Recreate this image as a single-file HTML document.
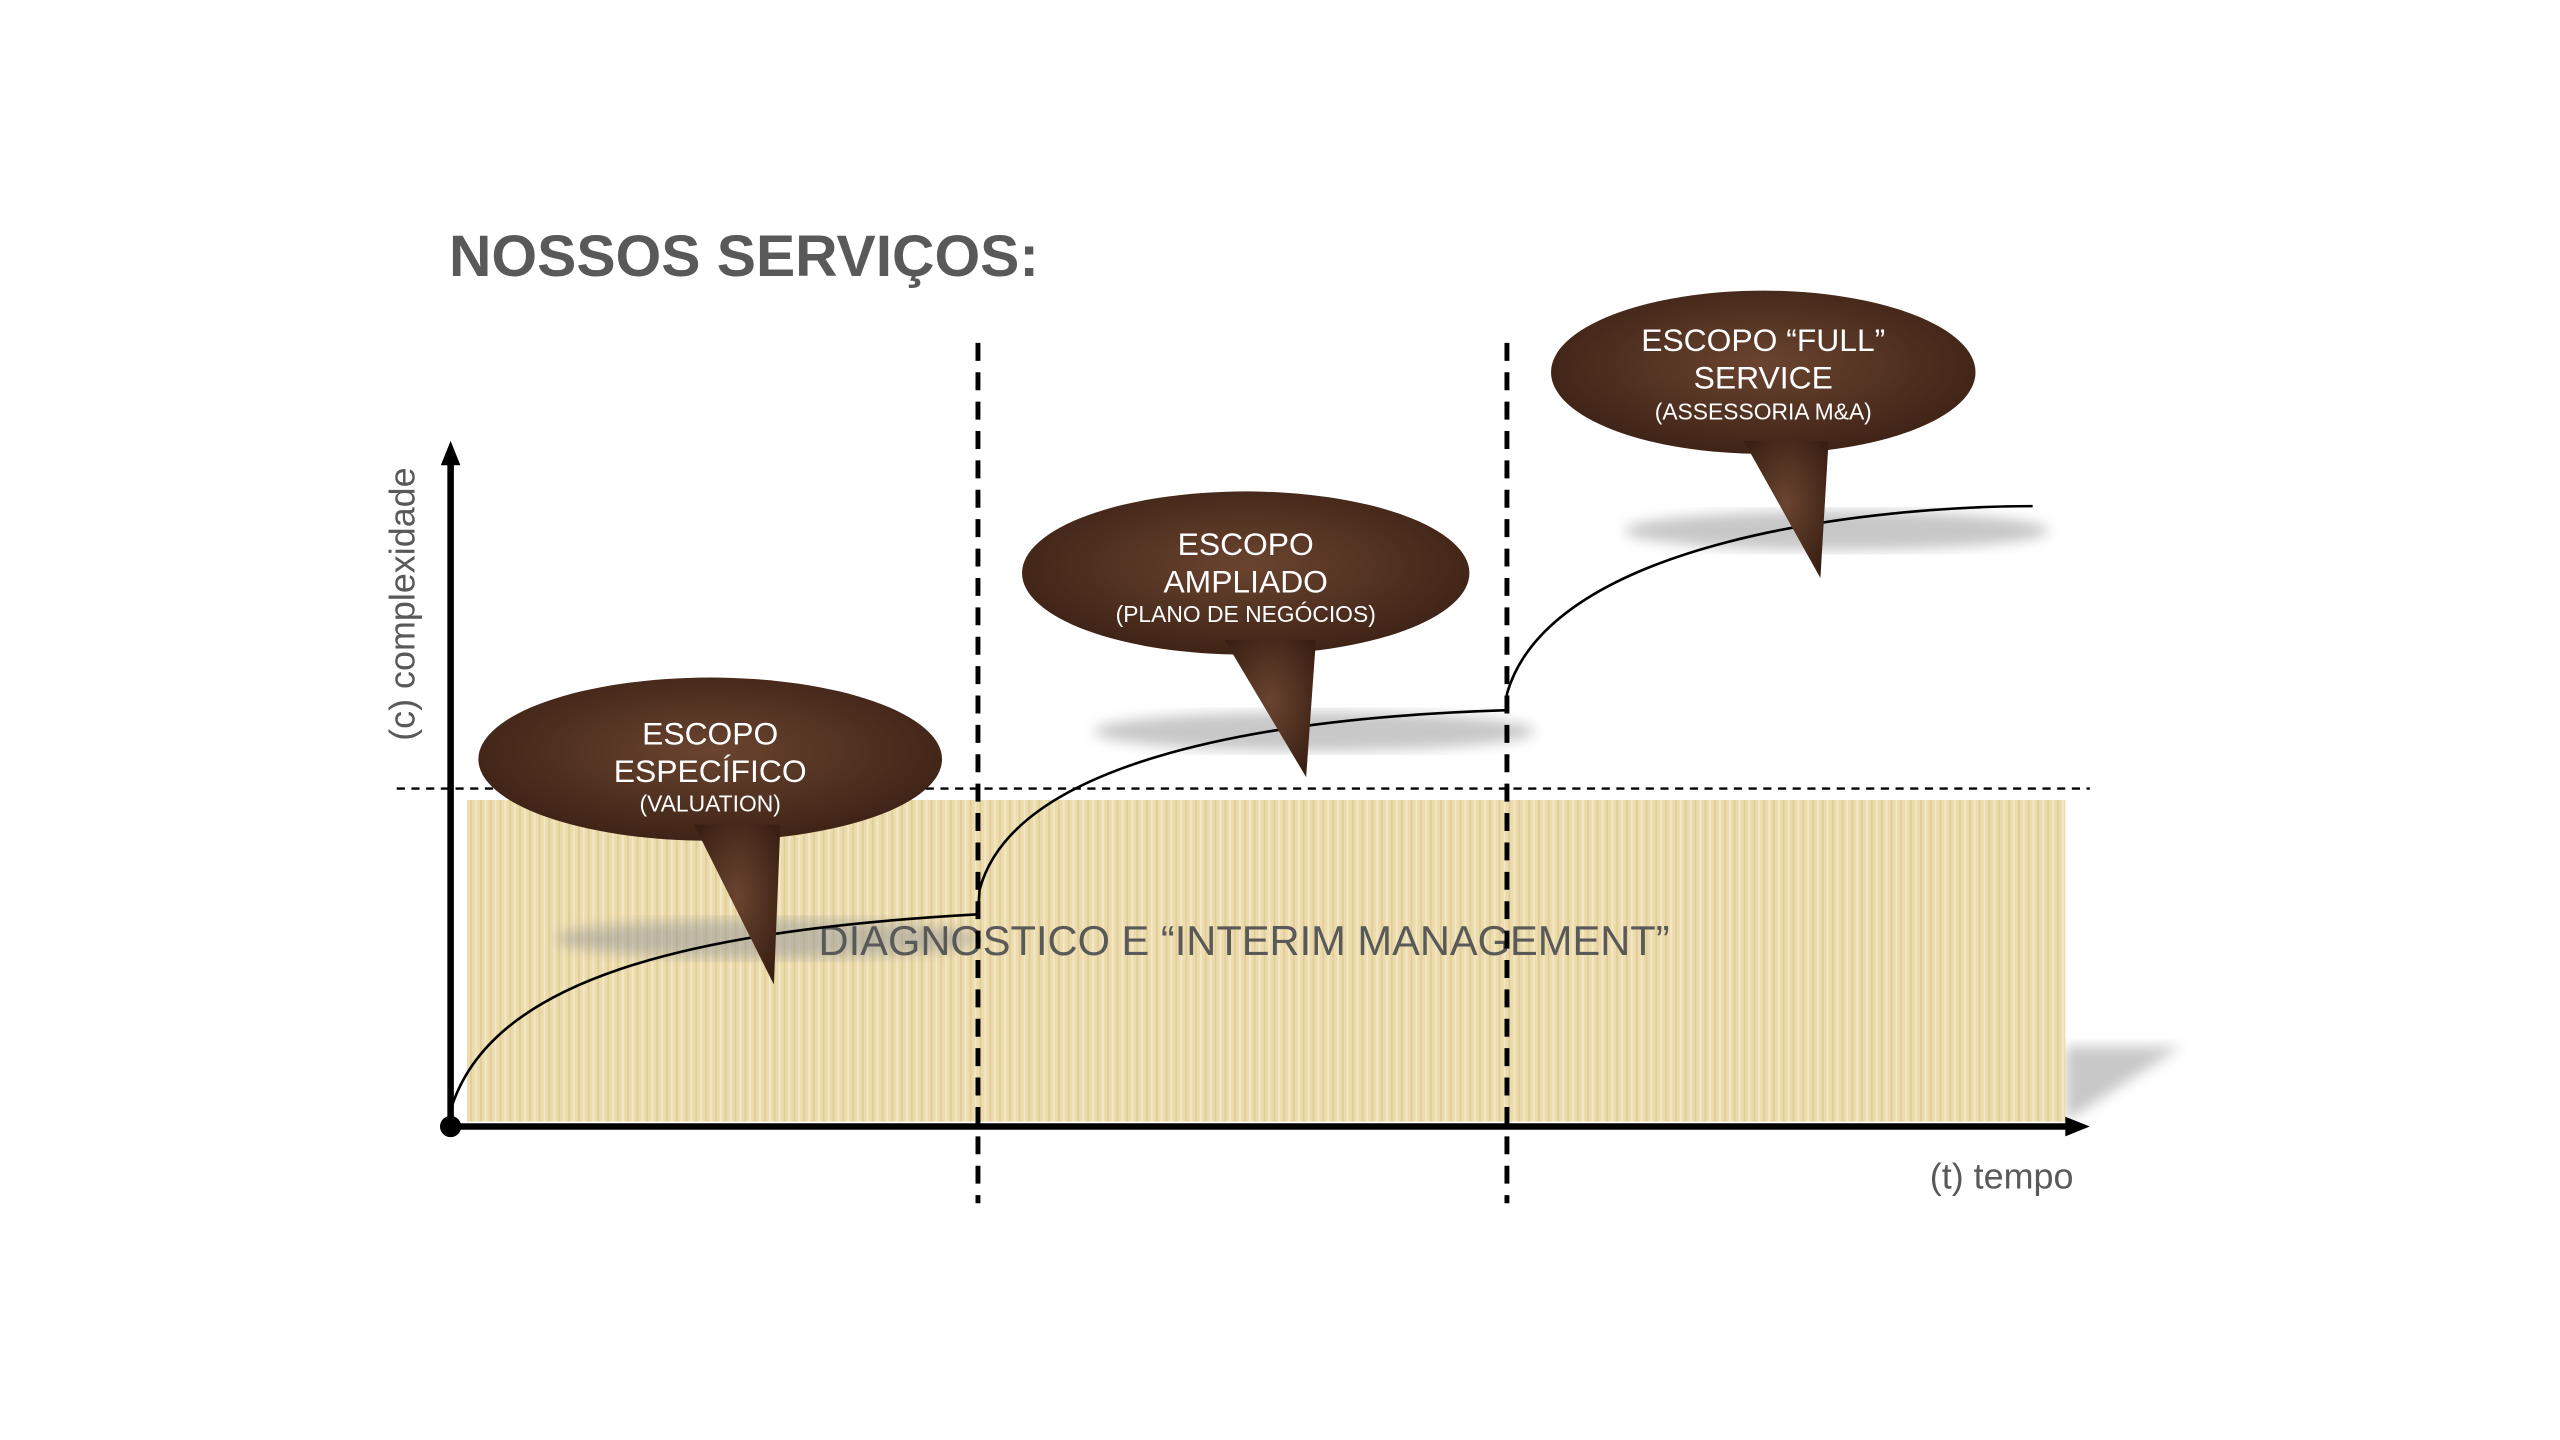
<!DOCTYPE html>
<html><head><meta charset="utf-8"><style>
html,body{margin:0;padding:0;background:#fff;width:2560px;height:1440px;overflow:hidden}
svg{display:block}
text{font-family:"Liberation Sans",sans-serif}
</style></head><body>
<svg width="2560" height="1440" viewBox="0 0 1568 882" xmlns="http://www.w3.org/2000/svg">
<defs>
<radialGradient id="m" cx="50%" cy="45%" r="60%">
<stop offset="0" stop-color="#6a4430"/><stop offset="0.6" stop-color="#4e2f1f"/><stop offset="1" stop-color="#3a2014"/>
</radialGradient>
<filter id="b"><feGaussianBlur stdDeviation="4"/></filter>
<pattern id="p" width="6" height="20" patternUnits="userSpaceOnUse">
<rect width="6" height="20" fill="#ecdcad"/><rect width="1" height="20" fill="#e0cc96"/><rect x="3" width="1" height="20" fill="#f4e9c8"/>
</pattern>
</defs>
<text x="275" y="169" font-size="36" font-weight="bold" fill="#595959">NOSSOS SERVIÇOS:</text>
<polygon points="1265,641 1336,641 1265,687" fill="#c8c8c8" filter="url(#b)"/>
<rect x="286" y="490" width="979" height="197" fill="url(#p)"/>
<line x1="243" y1="483" x2="1280" y2="483" stroke="#000" stroke-width="1.5" stroke-dasharray="5,4"/>
<ellipse cx="470" cy="575" rx="130" ry="12" fill="#9a9a9a" opacity="0.55" filter="url(#b)"/>
<ellipse cx="805" cy="448" rx="135" ry="12" fill="#9a9a9a" opacity="0.55" filter="url(#b)"/>
<ellipse cx="1125" cy="325" rx="130" ry="12" fill="#9a9a9a" opacity="0.55" filter="url(#b)"/>
<text x="762" y="585" font-size="25.5" fill="#595959" text-anchor="middle">DIAGNOSTICO E “INTERIM MANAGEMENT”</text>
<path d="M276,680 C300,600 420,570 599,560 L600,545 C620,470 760,440 923,435 L923,425 C950,330 1150,310 1245,310" fill="none" stroke="#000" stroke-width="1.6"/>
<line x1="276" y1="690" x2="276" y2="282" stroke="#000" stroke-width="4"/>
<polygon points="276,270 270,285 282,285" fill="#000"/>
<line x1="276" y1="690" x2="1266" y2="690" stroke="#000" stroke-width="4"/>
<polygon points="1280,690 1265,684 1265,696" fill="#000"/>
<circle cx="276" cy="690" r="6.5" fill="#000"/>
<line x1="599" y1="210" x2="599" y2="737" stroke="#000" stroke-width="3" stroke-dasharray="11,7"/>
<line x1="923" y1="210" x2="923" y2="737" stroke="#000" stroke-width="3" stroke-dasharray="11,7"/>
<g fill="url(#m)">
<ellipse cx="435" cy="465" rx="142" ry="50"/><polygon points="425,505 474,603 478,505"/>
<ellipse cx="763" cy="351" rx="137" ry="50"/><polygon points="750,392 800,476 806,392"/>
<ellipse cx="1080" cy="228" rx="130" ry="50"/><polygon points="1068,270 1115,354 1120,270"/>
</g>
<g fill="#fff" text-anchor="middle">
<text x="435" y="456" font-size="19.5">ESCOPO</text>
<text x="435" y="479" font-size="19.5">ESPECÍFICO</text>
<text x="435" y="497" font-size="14">(VALUATION)</text>
<text x="763" y="340" font-size="19.5">ESCOPO</text>
<text x="763" y="363" font-size="19.5">AMPLIADO</text>
<text x="763" y="381" font-size="14">(PLANO DE NEGÓCIOS)</text>
<text x="1080" y="215" font-size="19.5">ESCOPO “FULL”</text>
<text x="1080" y="238" font-size="19.5">SERVICE</text>
<text x="1080" y="257" font-size="14">(ASSESSORIA M&amp;A)</text>
</g>
<text x="1270" y="728" font-size="22" fill="#595959" text-anchor="end">(t) tempo</text>
<text transform="translate(254,370) rotate(-90)" font-size="22" fill="#595959" text-anchor="middle">(c) complexidade</text>
</svg>
</body></html>
